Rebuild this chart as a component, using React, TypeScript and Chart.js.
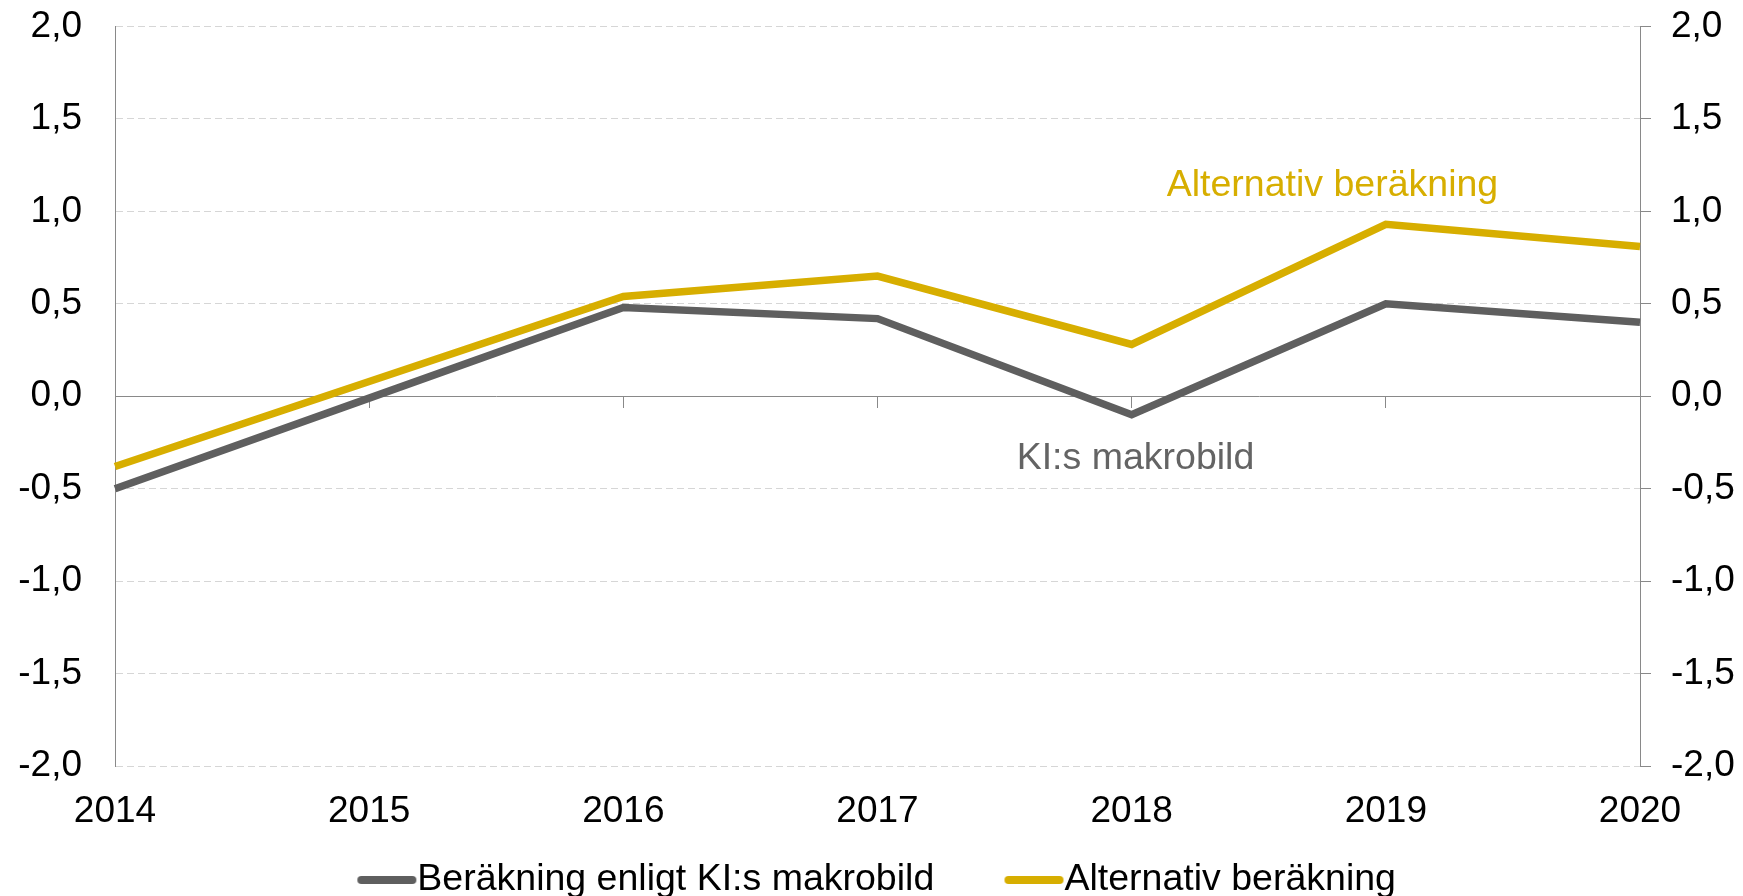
import React, { useEffect, useRef } from 'react';
import { Chart, registerables } from 'chart.js';

Chart.register(...registerables);

// ---- data ----
const years = ['2014', '2015', '2016', '2017', '2018', '2019', '2020'];
const kiValues = [-0.5, -0.01, 0.48, 0.42, -0.1, 0.5, 0.4];
const altValues = [-0.38, 0.08, 0.54, 0.65, 0.28, 0.93, 0.81];
const seriesNames = ['Beräkning enligt KI:s makrobild', 'Alternativ beräkning'];
const yMin = -2;
const yMax = 2;
const yStep = 0.5;
const annotationTexts = ['Alternativ beräkning', 'KI:s makrobild'];
const annotationX = [4.79, 4.015];
const annotationY = [1.138, -0.335];

// ---- styles ----
const FONT = '"Liberation Sans", Arial, Helvetica, sans-serif';
const YELLOW = '#D7AE00';
const GRAY = '#5F5F5F';
const KI_TEXT = '#646464';
const AXIS = '#898989';
const GRID = '#D6D6D6';
const CLEAR = 'rgba(0,0,0,0)';
const annotationColors = [YELLOW, KI_TEXT];
const TICK_SIZE = 37;
const TEXT_SIZE = 37.5;
const LEGEND_BOX = 41.5;

const fmt = (v: number | string) => Number(v).toFixed(1).replace('.', ',');

function makeLegendLine(color: string): HTMLCanvasElement {
  const c = document.createElement('canvas');
  const w = Math.round(LEGEND_BOX + TEXT_SIZE);
  c.width = w;
  c.height = 12;
  const g = c.getContext('2d')!;
  g.strokeStyle = color;
  g.lineWidth = 8;
  g.lineCap = 'round';
  g.beginPath();
  g.moveTo(w - 60 + 4, 6);
  g.lineTo(w - 1 - 4, 6);
  g.stroke();
  return c;
}

const annotationPlugin = {
  id: 'textAnnotations',
  afterDatasetsDraw(chart: any) {
    const { ctx, scales } = chart;
    ctx.save();
    ctx.font = `${TEXT_SIZE}px ${FONT}`;
    ctx.textAlign = 'center';
    ctx.textBaseline = 'middle';
    annotationTexts.forEach((t, i) => {
      ctx.fillStyle = annotationColors[i];
      ctx.fillText(t, scales.x.getPixelForValue(annotationX[i]), scales.y.getPixelForValue(annotationY[i]));
    });
    ctx.restore();
  },
};

export default function App() {
  const ref = useRef<HTMLCanvasElement>(null);

  useEffect(() => {
    const legendImages = [makeLegendLine(GRAY), makeLegendLine(YELLOW)];
    const tickFont = { family: FONT, size: TICK_SIZE };
    const lineDataset = (label: string, data: number[], color: string) => ({
      label,
      data,
      borderColor: color,
      backgroundColor: color,
      borderWidth: 7.5,
      pointRadius: 0,
      tension: 0,
      borderJoinStyle: 'miter',
      borderCapStyle: 'butt',
      xAxisID: 'x',
      yAxisID: 'y',
    });
    const chart = new Chart(ref.current!, {
      type: 'line',
      data: {
        labels: years,
        datasets: [lineDataset(seriesNames[0], kiValues, GRAY), lineDataset(seriesNames[1], altValues, YELLOW)],
      },
      options: {
        responsive: false,
        animation: false,
        devicePixelRatio: 1,
        layout: { padding: { top: 26.5, bottom: -12.75, left: 10, right: 0 } },
        plugins: {
          tooltip: { enabled: false },
          legend: {
            position: 'bottom',
            labels: {
              font: { family: FONT, size: TEXT_SIZE },
              color: '#000000',
              usePointStyle: true,
              pointStyleWidth: LEGEND_BOX,
              boxHeight: TEXT_SIZE,
              padding: 70,
              generateLabels: (c: any) =>
                (Chart.defaults.plugins.legend.labels as any)
                  .generateLabels(c)
                  .map((item: any, i: number) => ({ ...item, pointStyle: legendImages[i] })),
            },
          },
        },
        scales: {
          // bottom spacer axis that the data uses
          x: {
            type: 'category',
            position: 'bottom',
            grid: { display: false, drawTicks: false },
            border: { display: false },
            ticks: { display: false },
            afterFit: (s: any) => {
              s.height = 25.25;
            },
          },
          // zero line with tick marks
          x2: {
            type: 'category',
            axis: 'x',
            position: { y: 0 },
            grid: { drawOnChartArea: false, drawTicks: true, tickLength: 11, color: AXIS, tickColor: AXIS, tickBorderDash: [] },
            border: { display: true, color: AXIS, width: 1 },
            ticks: { display: false },
          },
          // year labels under the plot
          x3: {
            type: 'category',
            axis: 'x',
            position: { y: yMin },
            grid: { display: false, drawTicks: false },
            border: { display: false },
            ticks: { font: tickFont, color: '#000000', padding: 23.5, maxRotation: 0, autoSkip: false },
          },
          y: {
            type: 'linear',
            position: 'left',
            min: yMin,
            max: yMax,
            grid: {
              drawTicks: true,
              tickLength: 33,
              tickColor: CLEAR,
              color: (c: any) => (c.tick && c.tick.value === 0 ? CLEAR : GRID),
              lineWidth: 1,
            },
            border: { display: true, color: AXIS, width: 1, dash: [7, 4] },
            ticks: { stepSize: yStep, font: tickFont, color: '#000000', padding: 0, callback: (v: any) => fmt(v) },
            afterFit: (s: any) => {
              s.width = 105;
            },
          },
          // visible right axis line + outward tick marks
          y3: {
            type: 'linear',
            axis: 'y',
            position: 'right',
            weight: 0,
            min: yMin,
            max: yMax,
            grid: { drawOnChartArea: false, drawTicks: true, tickLength: 11, color: AXIS, tickColor: AXIS, tickBorderDash: [] },
            border: { display: true, color: AXIS, width: 1 },
            ticks: { stepSize: yStep, display: false },
            afterFit: (s: any) => {
              s.width = 11;
            },
          },
          // right tick labels
          y2: {
            type: 'linear',
            axis: 'y',
            position: 'right',
            weight: 1,
            min: yMin,
            max: yMax,
            grid: { drawOnChartArea: false, drawTicks: true, tickLength: 20, color: CLEAR, tickColor: CLEAR },
            border: { display: false },
            ticks: { stepSize: yStep, font: tickFont, color: '#000000', padding: 0, callback: (v: any) => fmt(v) },
            afterFit: (s: any) => {
              s.width = 92;
            },
          },
        },
      } as any,
      plugins: [annotationPlugin],
    });
    return () => chart.destroy();
  }, []);

  return (
    <canvas
      ref={ref}
      width={1743}
      height={896}
      style={{ position: 'fixed', left: 0, top: 0, width: 1743, height: 896 }}
    />
  );
}
